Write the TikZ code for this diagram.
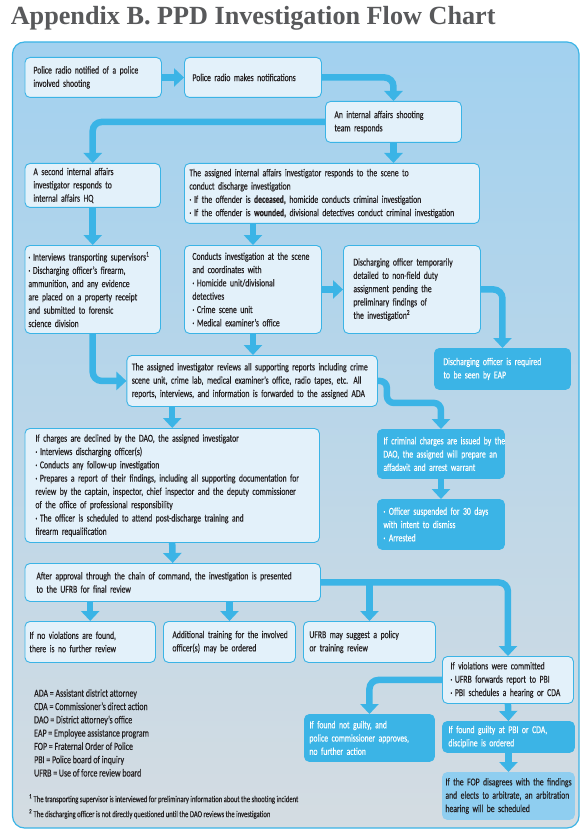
\documentclass[tikz,border=0pt]{standalone}
\usepackage{fontspec}
\setmainfont{Carlito}[FakeStretch=0.73, FakeBold=0.3]
\newfontfamily\titlefont{Liberation Serif}
\usetikzlibrary{positioning, arrows.meta}

\definecolor{ppdblue}{HTML}{3BB4E6}
\definecolor{boxfill}{HTML}{E3F1FA}
\definecolor{fopfill}{HTML}{8FCEF0}
\definecolor{paneltop}{HTML}{A2D1EF}
\definecolor{panelbot}{HTML}{D4DCE2}
\definecolor{titlegray}{HTML}{58595B}
\definecolor{inkdark}{HTML}{231F20}

\newcommand{\bulx}{\hangindent=4.5pt\hangafter=1\makebox[4.5pt][l]{\textperiodcentered}}
\newcommand{\bul}{\par\bulx}

\tikzset{
  lbox/.style={draw=ppdblue, fill=boxfill, line width=0.9pt, rounded corners=5pt, anchor=north west,
    text=inkdark, inner ysep=0pt, font=\fontsize{10.5}{13.3}\selectfont,
    execute at begin node={\rightskip=-40pt plus 1fil\relax}},
  dbox/.style={lbox, fill=ppdblue, text=white},
  flow/.style={draw=ppdblue, line width=6.5pt, rounded corners=9pt, -{Triangle[width=18pt,length=10pt]}},
}

\begin{document}
\begin{tikzpicture}[x=1pt, y=-1pt]

\useasboundingbox (0,0) rectangle (587,834);

\node[anchor=base west, inner sep=0pt, font=\titlefont\bfseries\fontsize{26.2}{28}\selectfont, text=titlegray] (title) at (10.6,24.5) {Appendix B. PPD Investigation Flow Chart};

\shadedraw[top color=paneltop, bottom color=panelbot, draw=ppdblue, line width=1.2pt, rounded corners=12pt] (12.5,42) rectangle (579,828);

% first steps
\node[lbox, text width=119.5pt, inner xsep=8.5pt, minimum height=40pt] (radio) at (24.5,57) {Police radio notified of a police\\involved shooting};
\node[lbox, text width=121pt, inner xsep=8pt, minimum height=40pt] (notify) at (184,57) {Police radio makes notifications};
\node[lbox, text width=118pt, inner xsep=9pt, minimum height=41pt] (team) at (325,101) {An internal affairs shooting\\team responds};

\node[lbox, text width=118.5pt, inner xsep=8.5pt, minimum height=44pt] (second) at (24.5,163) {A second internal affairs\\investigator responds to\\internal affairs HQ};
\node[lbox, text width=285pt, inner xsep=5pt, minimum height=60pt] (scene) at (184,163) {The assigned internal affairs investigator responds to the scene to\\conduct discharge investigation\bul If the offender is \textbf{deceased,} homicide conducts criminal investigation\bul If the offender is \textbf{wounded,} divisional detectives conduct criminal investigation};

% scene work
\node[lbox, text width=128.5pt, inner xsep=3.5pt, minimum height=88pt] (evidence) at (24.5,245) {\bulx Interviews transporting supervisors\textsuperscript{1}\bul Discharging officer’s firearm,\\ammunition, and any evidence\\are placed on a property receipt\\and submitted to forensic\\science division};
\node[lbox, text width=121pt, inner xsep=8pt, minimum height=88pt] (coord) at (184,245) {Conducts investigation at the scene\\and coordinates with\bul Homicide unit/divisional\\detectives\bul Crime scene unit\bul Medical examiner’s office};
\node[lbox, text width=117pt, inner xsep=10pt, minimum height=88pt] (desk) at (343,245) {Discharging officer temporarily\\detailed to non-field duty\\assignment pending the\\preliminary findings of\\the investigation\textsuperscript{2}};
\node[dbox, text width=118pt, inner xsep=9pt, minimum height=41pt] (eap) at (434,348) {Discharging officer is required\\to be seen by EAP};

% review and charges
\node[lbox, text width=240.6pt, inner xsep=5pt, minimum height=51pt] (review) at (126.4,355) {The assigned investigator reviews all supporting reports including crime\\scene unit, crime lab, medical examiner’s office, radio tapes, etc. All\\reports, interviews, and information is forwarded to the assigned ADA};
\node[dbox, text width=115pt, inner xsep=6pt, minimum height=49pt] (issued) at (377,429) {If criminal charges are issued by the\\DAO, the assigned will prepare an\\affadavit and arrest warrant};
\node[dbox, text width=115pt, inner xsep=6pt, minimum height=50pt] (suspend) at (377,499) {\textperiodcentered\ Officer suspended for 30 days\\with intent to dismiss\\\textperiodcentered\ Arrested};
\node[lbox, text width=273.5pt, inner xsep=10.5pt, minimum height=114pt] (declined) at (24.5,428) {If charges are declined by the DAO, the assigned investigator\bul Interviews discharging officer(s)\bul Conducts any follow-up investigation\bul Prepares a report of their findings, including all supporting documentation for\\review by the captain, inspector, chief inspector and the deputy commissioner\\of the office of professional responsibility\bul The officer is scheduled to attend post-discharge training and\\firearm requalification};

% UFRB
\node[lbox, text width=272.5pt, inner xsep=11.5pt, minimum height=38pt] (ufrb) at (24.5,563) {After approval through the chain of command, the investigation is presented\\to the UFRB for final review};
\node[lbox, text width=121.5pt, inner xsep=4.5pt, minimum height=41pt] (noviol) at (24.5,621) {If no violations are found,\\there is no further review};
\node[lbox, text width=114pt, inner xsep=9pt, minimum height=41pt] (retrain) at (163,621) {Additional training for the involved\\officer(s) may be ordered};
\node[lbox, text width=120pt, inner xsep=6pt, minimum height=41pt] (policy) at (303,621) {UFRB may suggest a policy\\or training review};
\node[lbox, text width=115pt, inner xsep=8pt, minimum height=47pt] (viol) at (442,656) {If violations were committed\bul UFRB forwards report to PBI\bul PBI schedules a hearing or CDA};
\node[dbox, text width=120pt, inner xsep=5pt, minimum height=47pt] (notguilty) at (304,714) {If found not guilty, and\\police commissioner approves,\\no further action};
\node[dbox, text width=120pt, inner xsep=6pt, minimum height=31pt] (guilty) at (442,721) {If found guilty at PBI or CDA,\\discipline is ordered};
\node[lbox, draw=fopfill, fill=fopfill, text width=126pt, inner xsep=3pt, minimum height=47pt] (fop) at (442,772) {If the FOP disagrees with the findings\\and elects to arbitrate, an arbitration\\hearing will be scheduled};

% legend and notes
\node[anchor=north west, inner sep=0pt, align=left, text=inkdark, font=\fontsize{10.8}{13.3}\selectfont] (legend) at (34,689) {ADA = Assistant district attorney\\CDA = Commissioner’s direct action\\DAO = District attorney’s office\\EAP = Employee assistance program\\FOP = Fraternal Order of Police\\PBI = Police board of inquiry\\UFRB = Use of force review board};
\node[anchor=north west, inner sep=0pt, align=left, text=inkdark, font=\fontsize{9.1}{15}\selectfont] (notes) at (29,794) {\textsuperscript{1} The transporting supervisor is interviewed for preliminary information about the shooting incident\\\textsuperscript{2} The discharging officer is not directly questioned until the DAO reviews the investigation};

% connectors
\draw[flow] (radio.east) -- (notify.west);
\draw[flow] (notify.east) -| (team.north);
\draw[flow] (team.west) -| (second.north);
\draw[flow] (team.south) -- (team.south |- scene.north);
\draw[flow] (second.south) -- (evidence.north);
\draw[flow] (coord.north |- scene.south) -- (coord.north);
\draw[flow] (coord.east) -- (desk.west);
\draw[flow] (desk.east) -| (eap.north);
\draw[flow] (evidence.south) |- (review.west);
\draw[flow] (coord.south) -- (coord.south |- review.north);
\draw[flow, rounded corners=7pt] (review.east) -- ++(9,0) -- ++(0,22) -| (issued.north);
\draw[flow] (issued.south) -- (suspend.north);
\draw[flow] (declined.north |- review.south) -- (declined.north);
\draw[flow] (declined.south) -- (ufrb.north);
\draw[flow] (noviol.north |- ufrb.south) -- (noviol.north);
\draw[flow] (retrain.north |- ufrb.south) -- (retrain.north);
\draw[flow] (ufrb.east) -| (viol.north);
\draw[flow] (policy.north |- ufrb.east) -- (policy.north);
\draw[flow] (viol.west) -| (notguilty.north);
\draw[flow] (viol.south) -- (guilty.north);
\draw[flow] (guilty.south) -- (fop.north);

\end{tikzpicture}
\end{document}
